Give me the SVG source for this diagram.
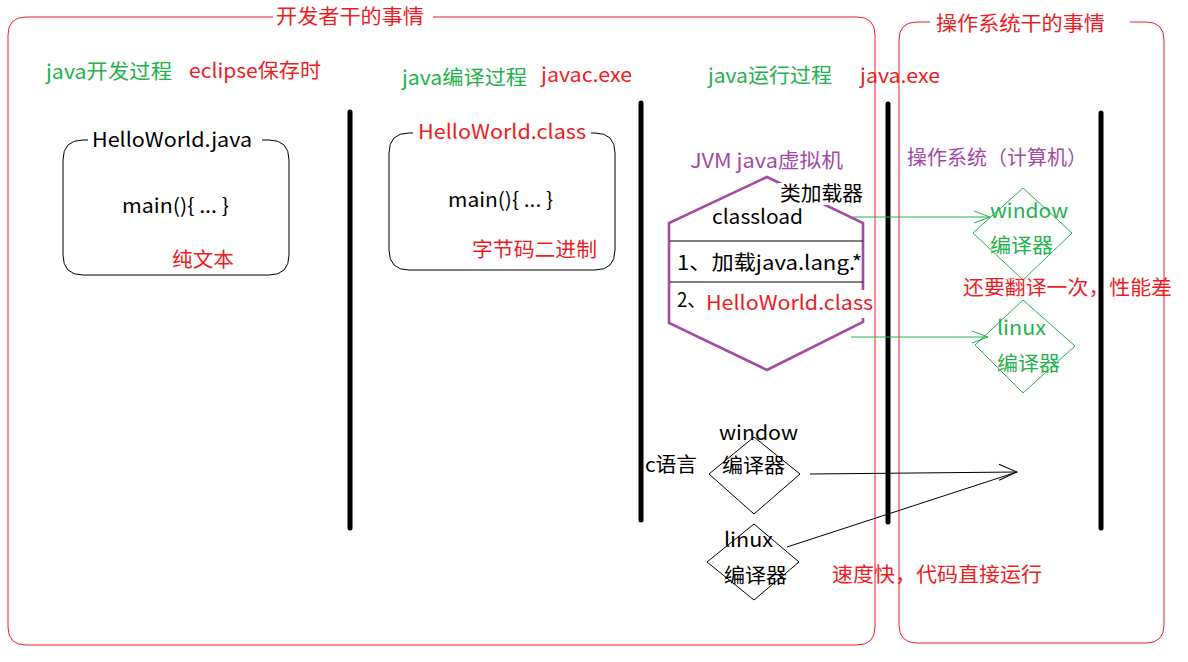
<svg xmlns="http://www.w3.org/2000/svg" width="1188" height="662" viewBox="0 0 1188 662">
<style>
text{font-family:"Noto Sans CJK SC","Microsoft YaHei",sans-serif;font-size:20px;}
.r{fill:#ed1c24}.g{fill:#22b14c}.p{fill:#a349a4}.k{fill:#000}
.frame{fill:none;stroke:#ed1c24;stroke-width:1}
.box{fill:none;stroke:#000;stroke-width:1}
.bar{stroke:#000;stroke-width:5;stroke-linecap:round}
.gd{fill:none;stroke:#22b14c;stroke-width:1}
.kd{fill:none;stroke:#000;stroke-width:1}
.bg{fill:#fff}
</style>
<defs>
<marker id="ag" markerWidth="20" markerHeight="14" refX="18" refY="7" orient="auto" markerUnits="userSpaceOnUse"><path d="M2,1 L18,7 L2,13" fill="none" stroke="#22b14c" stroke-width="1"/></marker>
<marker id="ak" markerWidth="22" markerHeight="18" refX="20" refY="9" orient="auto" markerUnits="userSpaceOnUse"><path d="M2,1 L20,9 L2,17" fill="none" stroke="#000" stroke-width="1"/></marker>
</defs>
<rect width="1188" height="662" fill="#fff"/>

<g id="dev-frame">
<path class="frame" d="M273,17 H26 Q8,17 8,35 V627 Q8,645 26,645 H857 Q875,645 875,627 V35 Q875,17 857,17 H433"/>
<text class="r" x="276" y="24" textLength="148" lengthAdjust="spacingAndGlyphs">开发者干的事情</text>
</g>
<g id="os-frame">
<path class="frame" d="M930,22 H917 Q899,22 899,40 V625 Q899,643 917,643 H1146 Q1164,643 1164,625 V40 Q1164,22 1146,22 H1130"/>
<text class="r" x="936" y="31" textLength="169" lengthAdjust="spacingAndGlyphs">操作系统干的事情</text>
</g>

<g id="bars">
<line class="bar" x1="350" y1="112" x2="350" y2="528"/>
<line class="bar" x1="641" y1="103" x2="641" y2="520"/>
<line class="bar" x1="888" y1="104" x2="888" y2="522"/>
<line class="bar" x1="1101" y1="113" x2="1101" y2="528"/>
</g>

<g id="headers">
<text class="g" x="46" y="79" textLength="126" lengthAdjust="spacingAndGlyphs">java开发过程</text>
<text class="r" x="189" y="78" textLength="132" lengthAdjust="spacingAndGlyphs">eclipse保存时</text>
<text class="g" x="402" y="85" textLength="125" lengthAdjust="spacingAndGlyphs">java编译过程</text>
<text class="r" x="541" y="82" textLength="91" lengthAdjust="spacingAndGlyphs">javac.exe</text>
<text class="g" x="708" y="83" textLength="124" lengthAdjust="spacingAndGlyphs">java运行过程</text>
<text class="r" x="860" y="83" textLength="80" lengthAdjust="spacingAndGlyphs">java.exe</text>
</g>

<g id="java-file">
<path class="box" d="M88,140 H83 Q63,140 63,160 V255 Q63,275 83,275 H269 Q289,275 289,255 V160 Q289,140 269,140 H262"/>
<text class="k" x="92" y="147" textLength="160" lengthAdjust="spacingAndGlyphs">HelloWorld.java</text>
<text class="k" x="122" y="213" textLength="107" lengthAdjust="spacingAndGlyphs">main(){ ... }</text>
<text class="r" x="172" y="267" textLength="62" lengthAdjust="spacingAndGlyphs">纯文本</text>
</g>

<g id="class-file">
<path class="box" d="M413,133 H409 Q389,133 389,153 V250 Q389,270 409,270 H595 Q615,270 615,250 V153 Q615,133 595,133 H591"/>
<text class="r" x="418" y="139" textLength="168" lengthAdjust="spacingAndGlyphs">HelloWorld.class</text>
<text class="k" x="448" y="207" textLength="105" lengthAdjust="spacingAndGlyphs">main(){ ... }</text>
<text class="r" x="472" y="257" textLength="125" lengthAdjust="spacingAndGlyphs">字节码二进制</text>
</g>

<g id="jvm">
<text class="p" x="690" y="168" textLength="153" lengthAdjust="spacingAndGlyphs">JVM java虚拟机</text>
<polygon points="767,177 863,223 863,322 767,370 669,323 669,223" fill="none" stroke="#a349a4" stroke-width="2.6"/>
<line x1="670" y1="241" x2="863" y2="241" stroke="#000" stroke-width="1"/>
<line x1="670" y1="282" x2="863" y2="282" stroke="#000" stroke-width="1"/>
<rect class="bg" x="778" y="183" width="86" height="22"/>
<text class="k" x="780" y="201" textLength="83" lengthAdjust="spacingAndGlyphs">类加载器</text>
<text class="k" x="712" y="224" textLength="91" lengthAdjust="spacingAndGlyphs">classload</text>
<text class="k" x="677" y="270" textLength="185" lengthAdjust="spacingAndGlyphs">1、加载java.lang.*</text>
<rect class="bg" x="706" y="290" width="168" height="28"/>
<text class="k" x="677" y="307" textLength="29" lengthAdjust="spacingAndGlyphs">2、</text>
<text class="r" x="706" y="310" textLength="167" lengthAdjust="spacingAndGlyphs">HelloWorld.class</text>
</g>

<g id="os-label">
<text class="p" x="907" y="165" textLength="180" lengthAdjust="spacingAndGlyphs">操作系统（计算机）</text>
</g>

<g id="jvm-win-compiler">
<polygon class="gd" points="1023,188 1072,233 1023,280 973,233"/>
<text class="g" x="990" y="218" textLength="78" lengthAdjust="spacingAndGlyphs">window</text>
<text class="g" x="990" y="253" textLength="63" lengthAdjust="spacingAndGlyphs">编译器</text>
</g>
<g id="jvm-linux-compiler">
<polygon class="gd" points="1023,300 1075,346 1023,393 975,345"/>
<text class="g" x="997" y="335" textLength="49" lengthAdjust="spacingAndGlyphs">linux</text>
<text class="g" x="997" y="371" textLength="63" lengthAdjust="spacingAndGlyphs">编译器</text>
</g>
<g id="note-slow">
<text class="r" x="963" y="295" textLength="209" lengthAdjust="spacingAndGlyphs">还要翻译一次，性能差</text>
</g>

<g id="c-lang">
<text class="k" x="645" y="472" textLength="52" lengthAdjust="spacingAndGlyphs">c语言</text>
</g>
<g id="c-win-compiler">
<polygon class="kd" points="754,437 800,474 754,514 709,474"/>
<text class="k" x="719" y="440" textLength="79" lengthAdjust="spacingAndGlyphs">window</text>
<text class="k" x="722" y="473" textLength="63" lengthAdjust="spacingAndGlyphs">编译器</text>
</g>
<g id="c-linux-compiler">
<polygon class="kd" points="754,524 799,562 754,600 707,562"/>
<text class="k" x="724" y="547" textLength="49" lengthAdjust="spacingAndGlyphs">linux</text>
<text class="k" x="724" y="583" textLength="63" lengthAdjust="spacingAndGlyphs">编译器</text>
</g>
<g id="note-fast">
<text class="r" x="832" y="582" textLength="210" lengthAdjust="spacingAndGlyphs">速度快，代码直接运行</text>
</g>

<g id="connectors">
<line x1="853" y1="217" x2="990" y2="217" stroke="#22b14c" stroke-width="1" marker-end="url(#ag)"/>
<line x1="851" y1="337" x2="988" y2="337" stroke="#22b14c" stroke-width="1" marker-end="url(#ag)"/>
<line x1="810" y1="474" x2="1017" y2="472" stroke="#000" stroke-width="1" marker-end="url(#ak)"/>
<line x1="787" y1="547" x2="1017" y2="472" stroke="#000" stroke-width="1"/>
</g>
</svg>
